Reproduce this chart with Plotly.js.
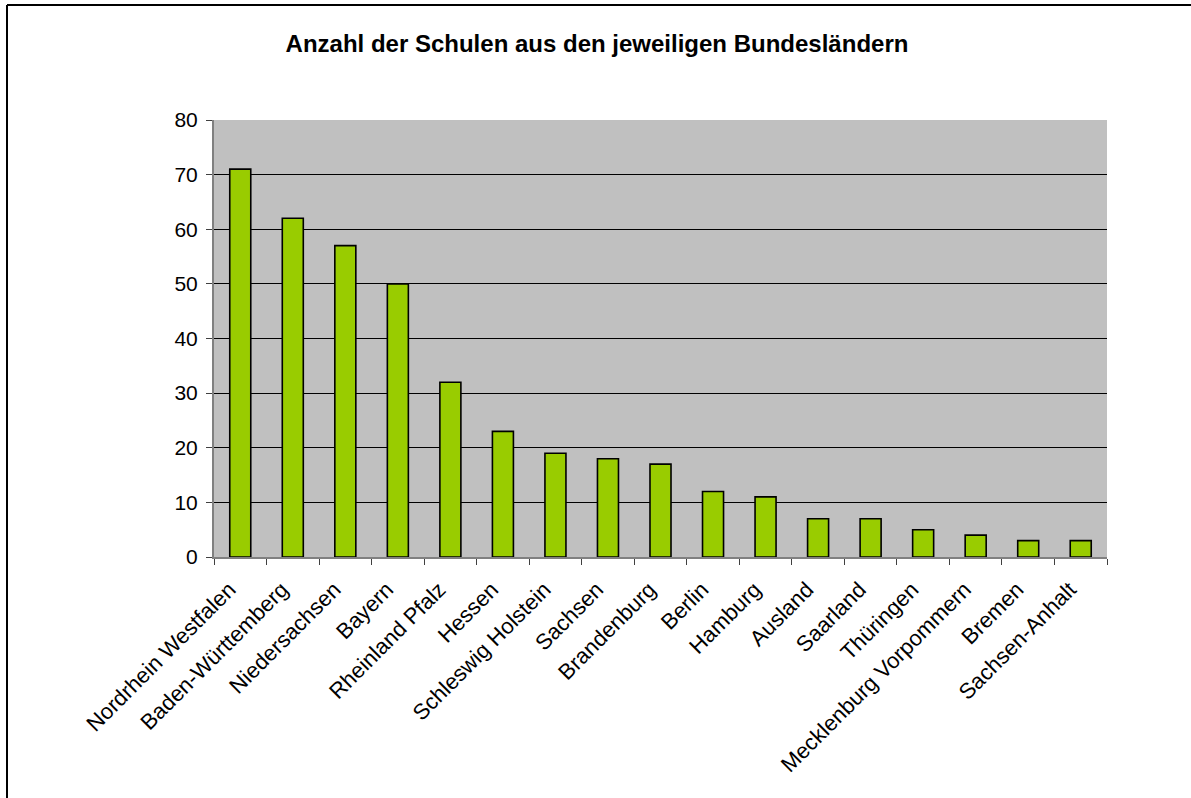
<!DOCTYPE html>
<html>
<head>
<meta charset="utf-8">
<script src="https://cdn.plot.ly/plotly-3.0.1.min.js"></script>
<style>html,body{margin:0;padding:0;background:#fff;}#chart{width:1191px;height:798px;}</style>
</head>
<body>
<div id="chart"></div>
<script>
const categories = ["Nordrhein Westfalen","Baden-Württemberg","Niedersachsen","Bayern","Rheinland Pfalz","Hessen","Schleswig Holstein","Sachsen","Brandenburg","Berlin","Hamburg","Ausland","Saarland","Thüringen","Mecklenburg Vorpommern","Bremen","Sachsen-Anhalt"];
const counts = [71,62,57,50,32,23,19,18,17,12,11,7,7,5,4,3,3];
const yTicks = [0,10,20,30,40,50,60,70,80];
const chartTitle = "Anzahl der Schulen aus den jeweiligen Bundesländern";

const L = 214, R = 1107, T = 120, B = 557, W = 1191, H = 798;
const px = x => (x - L) / (R - L);
const py = y => (B - y) / (B - T);

const trace = {
  type: 'bar', x: categories, y: counts,
  marker: {color: '#99CC00', line: {color: '#000000', width: 1.6}},
  hoverinfo: 'x+y'
};

const layout = {
  width: W, height: H,
  margin: {l: L, r: W - R, t: T, b: H - B, pad: 0},
  paper_bgcolor: '#ffffff', plot_bgcolor: '#C0C0C0',
  bargap: 0.6,
  showlegend: false,
  font: {family: 'Arial, "Liberation Sans", sans-serif', color: '#000', size: 21},
  title: {text: '<b>' + chartTitle + '</b>', x: 597 / W, xref: 'container', xanchor: 'center', y: 1 - 44 / H, yref: 'container', yanchor: 'middle',
          font: {size: 24, color: '#000'}},
  xaxis: {
    type: 'category', showgrid: false, zeroline: false,
    showline: true, linecolor: '#808080', linewidth: 2,
    ticks: 'outside', tickson: 'boundaries', ticklen: 6, tickcolor: '#404040', tickwidth: 1,
    tickangle: -45, tickfont: {size: 22}, ticklabelstandoff: 9, ticklabelshift: -11,
    range: [-0.5, categories.length - 0.5]
  },
  yaxis: {
    range: [0, 80], tickvals: yTicks, ticktext: yTicks.map(String),
    showgrid: true, gridcolor: '#000000', gridwidth: 1, zeroline: false,
    showline: true, linecolor: '#808080', linewidth: 2,
    ticks: 'outside', ticklen: 6, tickcolor: '#404040', tickwidth: 1,
    tickfont: {size: 21}, ticklabelstandoff: 4
  },
  shapes: [
    {type: 'line', xref: 'paper', yref: 'paper', x0: px(7), x1: px(7), y0: py(5), y1: py(H + 5), line: {color: '#000', width: 2}},
    {type: 'line', xref: 'paper', yref: 'paper', x0: px(7), x1: px(W + 5), y0: py(5), y1: py(5), line: {color: '#000', width: 2}}
  ]
};

Plotly.newPlot('chart', [trace], layout, {displayModeBar: false, staticPlot: false});
</script>
</body>
</html>
